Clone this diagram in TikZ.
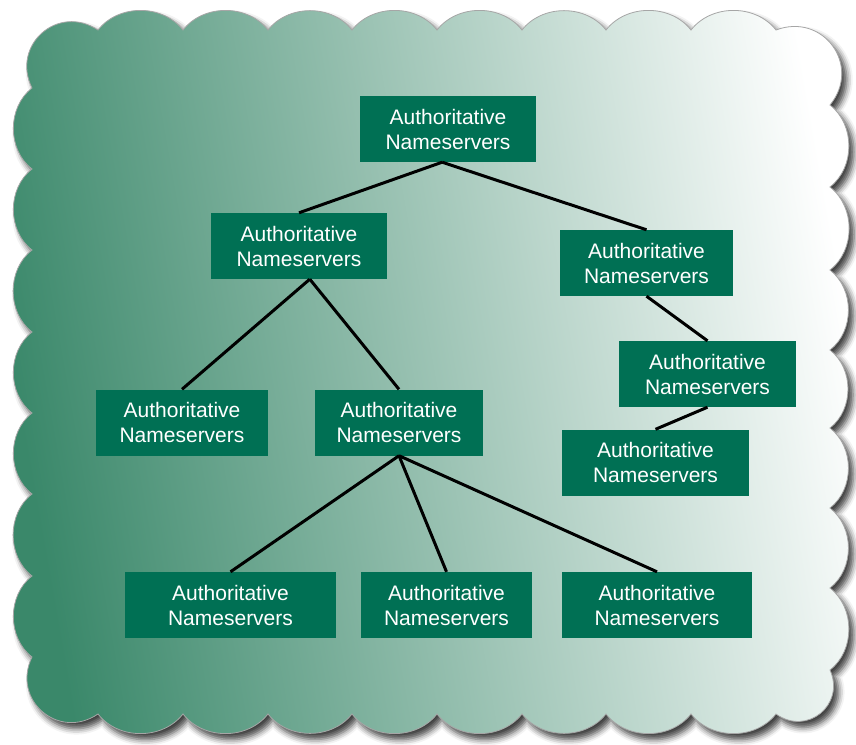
\documentclass[tikz,border=0pt]{standalone}
\usepackage[x11names,svgnames]{xcolor}
\usepackage{fontspec}
\setmainfont{Liberation Sans}
\usepackage{tikz}
\usetikzlibrary{shadows.blur}

\definecolor{cloudleft}{RGB}{58,136,106}
\definecolor{nsgreen}{RGB}{0,112,84}

\tikzset{
  nsbox/.style={rectangle,fill=nsgreen,text=white,align=center,minimum height=66pt,
                inner sep=2pt,font=\fontsize{21}{25}\selectfont},
  cloud/.style={left color=cloudleft,right color=white,shading angle=100,draw=gray!70,line width=0.8pt,
                blur shadow={shadow xshift=5pt,shadow yshift=-6pt,shadow blur radius=6pt,shadow opacity=75}},
  bump/.style={bend left=52},
  corner/.style={bend left=75,looseness=1.4}
}

\begin{document}
\begin{tikzpicture}[x=1pt,y=1pt]
\useasboundingbox (0,0) rectangle (856,-744);

\path[cloud] (98,-30)
  foreach \x in {183,268,352,437,522,606,691,776} { to[bump] (\x,-30) }
  to[corner] (830,-105)
  foreach \y in {187,270,350,428,508,588,670} { to[bump] (830,-\y) }
  to[corner] (776,-714)
  foreach \x in {691,606,522,437,352,268,183,98} { to[bump] (\x,-714) }
  to[corner] (32,-657)
  foreach \y in {576,494,413,332,250,169,88} { to[bump] (32,-\y) }
  to[corner] (98,-30) -- cycle;

\foreach \x/\y/\w/\n in {448/129/176/root, 299/246/176/lft, 646.5/263/173/rgt,
                         707.5/374/177/rgtB, 655.5/462.5/187/rgtC, 182/422.5/172/leaf,
                         399/422.5/168/mid, 230.5/605/211/botA, 446.5/605/171/botB,
                         657/605/190/botC}
  \node[nsbox,minimum width=\w] (\n) at (\x,-\y) {Authoritative\\Nameservers};

\foreach \s/\t in {root.-100/lft, root.-100/rgt, lft.-72/leaf, lft.-72/mid, mid.south/botA,
                   mid.south/botB, mid.south/botC, rgt.south/rgtB, rgtB.south/rgtC}
  \draw[line width=3pt] (\s) -- (\t.north);

\end{tikzpicture}
\end{document}
